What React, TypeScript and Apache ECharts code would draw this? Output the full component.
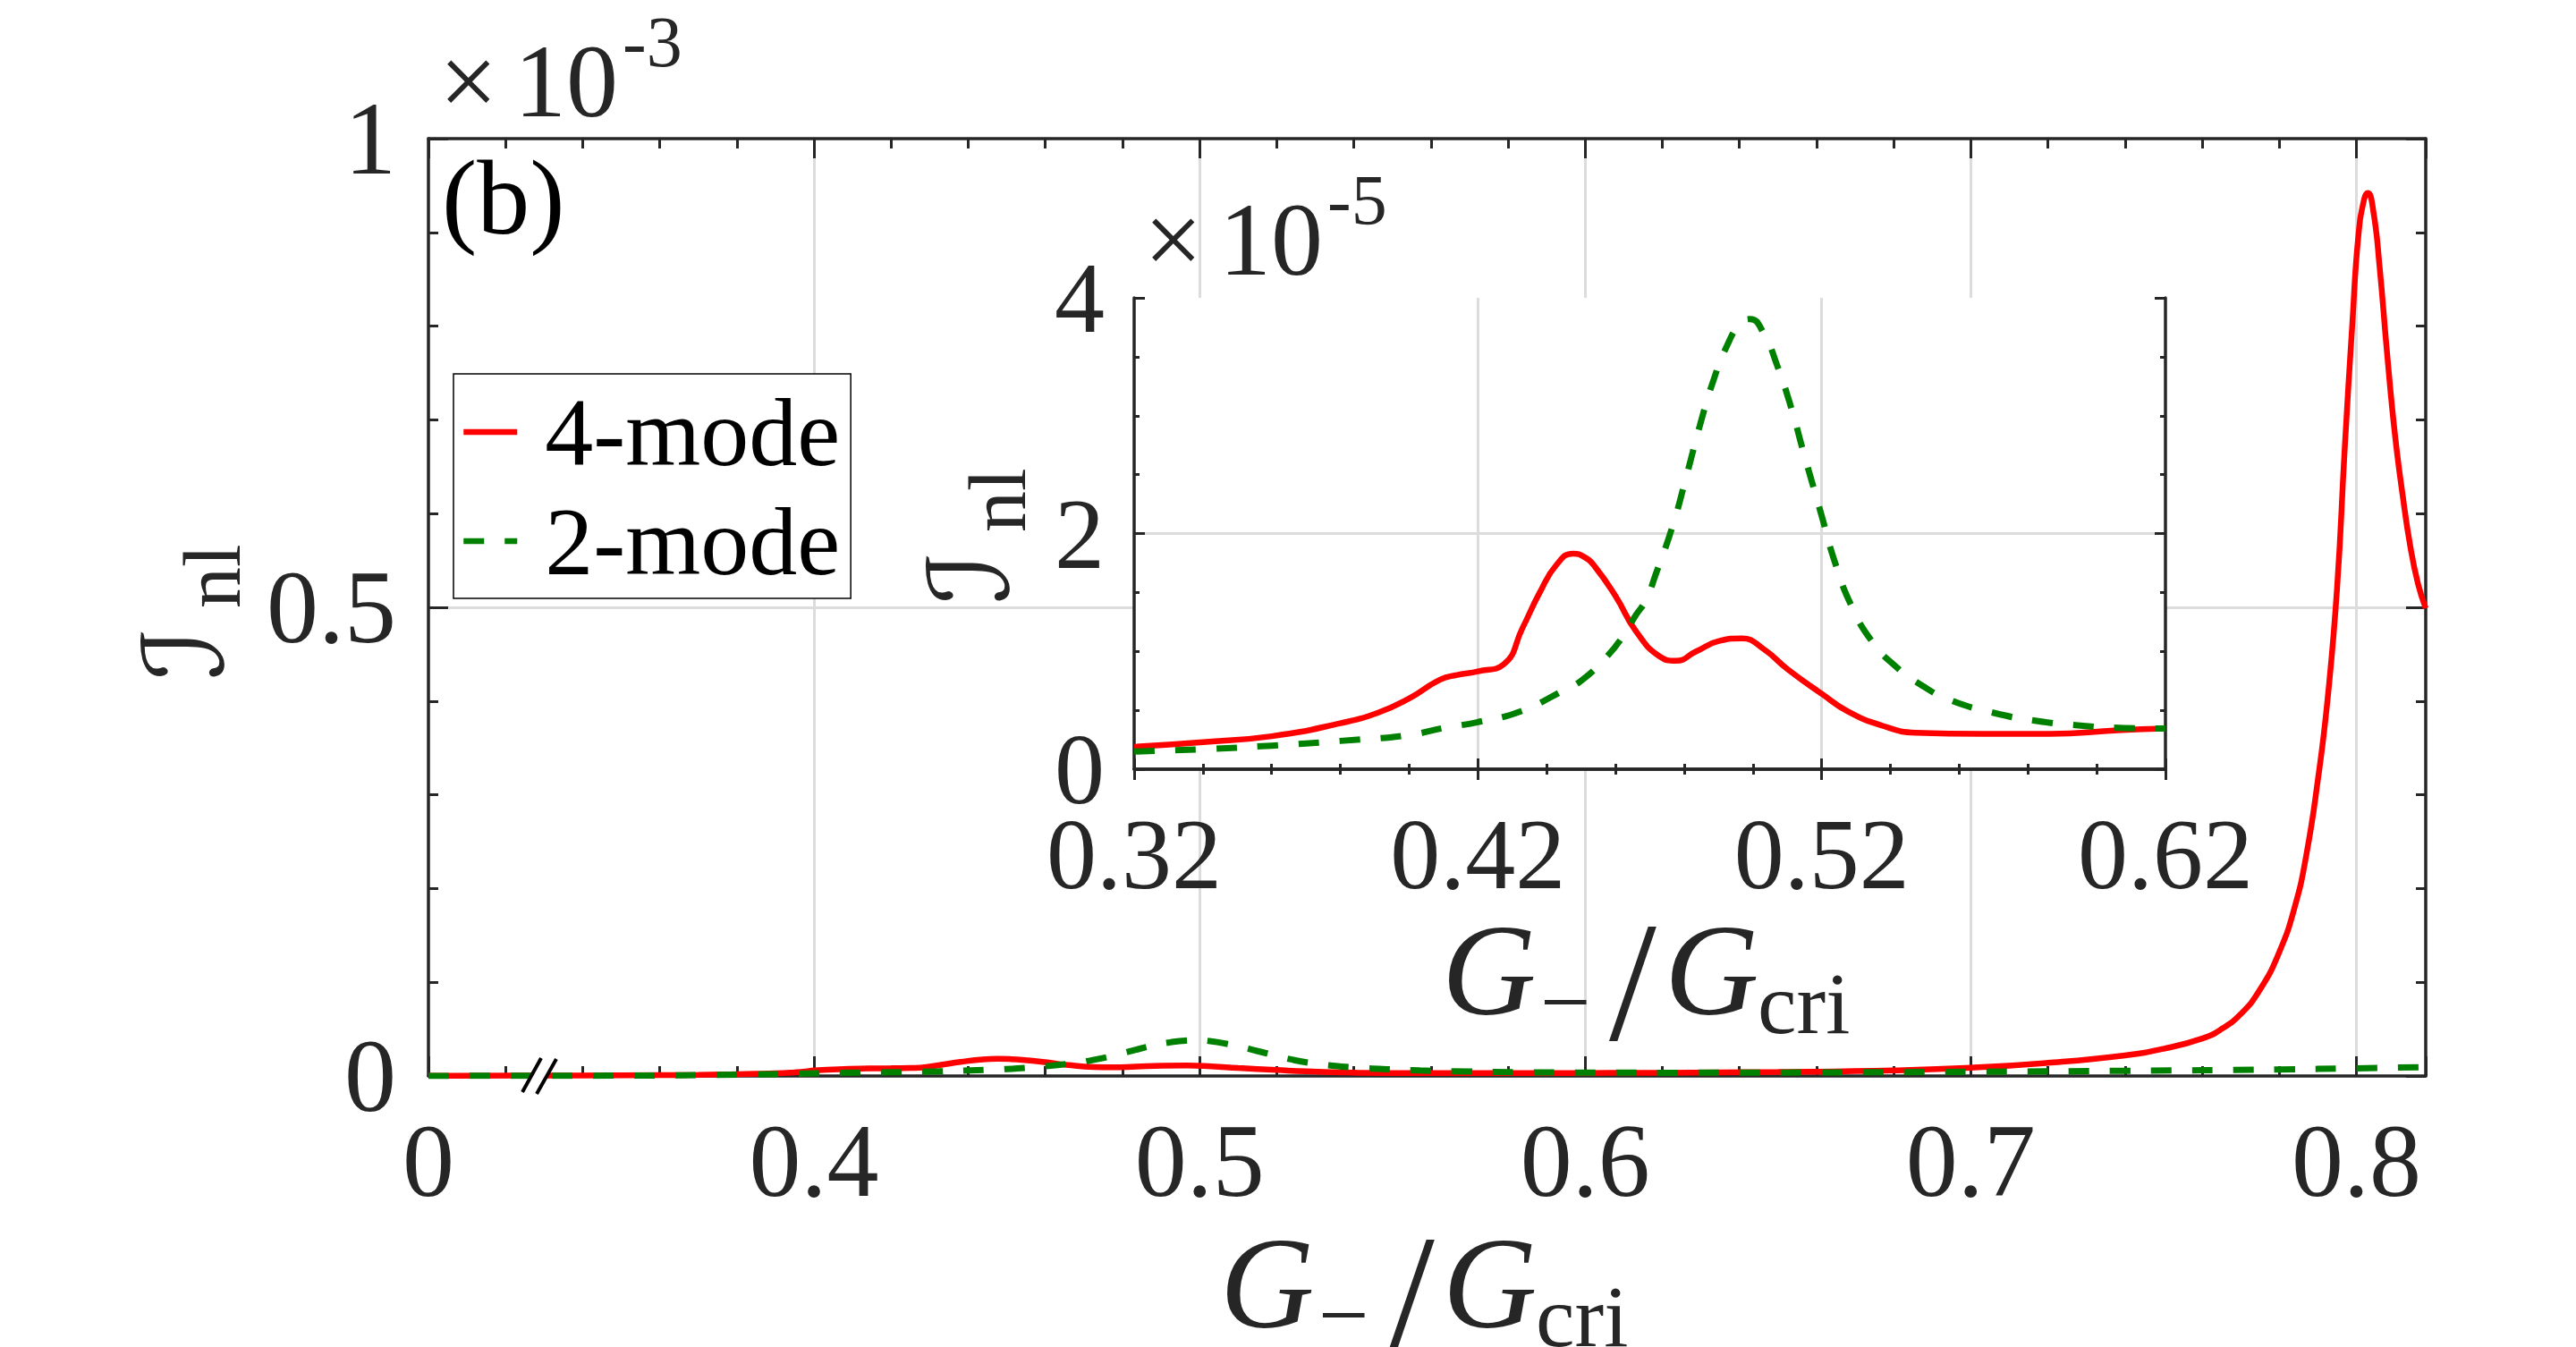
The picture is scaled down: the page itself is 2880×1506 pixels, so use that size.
import React, { useEffect, useRef } from 'react';
import * as echarts from 'echarts';

// ---- data (values of I_nl in units of 1e-5) ----
const gRatio4 = [0, 0.1, 0.2, 0.28, 0.32, 0.34, 0.36, 0.38, 0.391, 0.40, 0.409, 0.414, 0.42, 0.4275, 0.433, 0.438, 0.443, 0.4477, 0.451, 0.454, 0.46, 0.466, 0.4727, 0.4776, 0.4835, 0.4904, 0.4968, 0.5031, 0.51, 0.52, 0.5276, 0.5375, 0.5473, 0.5669, 0.5865, 0.606, 0.62, 0.65, 0.68, 0.70, 0.72, 0.74, 0.75, 0.76, 0.765, 0.77, 0.775, 0.78, 0.784, 0.787, 0.79, 0.7925, 0.795, 0.797, 0.799, 0.8005, 0.802, 0.803, 0.8045, 0.806, 0.808, 0.81, 0.812, 0.814, 0.816, 0.818];
const inl4 = [0.02, 0.04, 0.07, 0.12, 0.19, 0.23, 0.28, 0.39, 0.48, 0.60, 0.76, 0.80, 0.83, 0.89, 1.20, 1.50, 1.74, 1.83, 1.80, 1.72, 1.47, 1.17, 0.96, 0.92, 1.00, 1.09, 1.11, 1.02, 0.85, 0.64, 0.49, 0.37, 0.31, 0.30, 0.30, 0.33, 0.345, 0.42, 0.6, 0.88, 1.4, 2.2, 2.9, 4.0, 5.0, 6.6, 9.2, 13.2, 18.0, 23.5, 31.5, 40, 52, 67, 80.5, 89.5, 93.5, 94.2, 92, 86.5, 77, 68.5, 62, 56.5, 52.5, 49.9];
const gRatio2 = [0, 0.1, 0.2, 0.28, 0.32, 0.34, 0.36, 0.38, 0.40, 0.41, 0.42, 0.4323, 0.445, 0.45, 0.457, 0.462, 0.466, 0.4688, 0.4718, 0.4767, 0.4806, 0.4845, 0.4884, 0.4924, 0.4963, 0.4992, 0.5031, 0.507, 0.511, 0.5149, 0.52, 0.5237, 0.5286, 0.5345, 0.5414, 0.5492, 0.5571, 0.5698, 0.5825, 0.5953, 0.608, 0.62, 0.66, 0.70, 0.74, 0.78, 0.80, 0.818];
const inl2 = [0.01, 0.02, 0.04, 0.09, 0.15, 0.17, 0.20, 0.24, 0.29, 0.35, 0.40, 0.49, 0.67, 0.75, 0.94, 1.12, 1.31, 1.43, 1.66, 2.07, 2.48, 2.91, 3.29, 3.59, 3.78, 3.82, 3.70, 3.43, 3.08, 2.67, 2.15, 1.77, 1.39, 1.09, 0.875, 0.71, 0.59, 0.48, 0.41, 0.37, 0.35, 0.345, 0.38, 0.45, 0.55, 0.70, 0.82, 0.95];

const seriesNames = ['4-mode', '2-mode'];
const mainXTickValues = [0.3, 0.4, 0.5, 0.6, 0.7, 0.8];
const mainXTickLabels = ['0', '0.4', '0.5', '0.6', '0.7', '0.8'];
const insetXTickLabels = ['0.32', '0.42', '0.52', '0.62'];
const mainYTickLabels = ['0', '0.5', '1'];
const insetYTickLabels = ['0', '2', '4'];

const FONT = "'Liberation Serif', 'Times New Roman', serif";
const AX = '#262626';
const GRIDC = '#dcdcdc';
const RED = '#ff0000';
const GREEN = '#008000';

// broken axis: 0..0.4 drawn in the width of 0.1
const toMainX = (x: number) => (x < 0.4 ? 0.3 + x * 0.25 : x);

const mainData = (xs: number[], ys: number[]) => xs.map((x, i) => [toMainX(x), ys[i] / 100]);
const insetData = (xs: number[], ys: number[]) =>
  xs.map((x, i) => [x, ys[i]]).filter((p) => p[0] >= 0.32 - 1e-9 && p[0] <= 0.62 + 1e-9);

const txt = (text: string, x: number, baseline: number, fs: number, extra: any = {}) => ({
  type: 'text',
  x,
  y: baseline - 0.3375 * fs,
  z: 100,
  style: {
    text,
    fontSize: fs,
    fontFamily: FONT,
    fill: AX,
    align: 'left',
    verticalAlign: 'middle',
    textAlign: 'left',
    textVerticalAlign: 'middle',
    ...extra,
  },
});

const xLabel = (dx: number, dy: number) => [
  txt('G', 1364 + dx, 1484 + dy, 146, { fontStyle: 'italic' }),
  txt('\u2212', 1474 + dx, 1504 + dy, 100),
  txt('/', 1551 + dx, 1512 + dy, 190),
  txt('G', 1613 + dx, 1484 + dy, 146, { fontStyle: 'italic' }),
  txt('cri', 1717 + dx, 1505 + dy, 98),
];

const yLabel = (ox: number, oy: number) => ({
  type: 'group',
  x: ox,
  y: oy,
  rotation: Math.PI / 2,
  z: 100,
  children: [
    txt('\u2110', 0, 0, 124, { fontFamily: "'DejaVu Serif', 'DejaVu Sans', serif" }),
    txt('nl', 80, 20, 92),
  ],
});

const exponent = (dx: number, dy: number, p: string) => [
  txt('\u00d7', 491 + dx, 130 + dy, 116),
  txt('10', 575 + dx, 130 + dy, 116),
  txt(p, 696 + dx, 74 + dy, 80),
];

const tickStyle = { color: AX, width: 3 };

function buildOption() {
  const mainXFmt = (v: number) => {
    const i = mainXTickValues.findIndex((t) => Math.abs(t - v) < 1e-6);
    return i >= 0 ? mainXTickLabels[i] : '';
  };
  const insetXFmt = (v: number) => {
    const i = Math.round((v - 0.32) / 0.1);
    return Math.abs(0.32 + i * 0.1 - v) < 1e-6 && i >= 0 && i < insetXTickLabels.length ? insetXTickLabels[i] : '';
  };
  const mainYFmt = (v: number) => {
    const i = Math.round(v / 0.5);
    return Math.abs(i * 0.5 - v) < 1e-6 ? mainYTickLabels[i] ?? '' : '';
  };
  const insetYFmt = (v: number) => {
    const i = Math.round(v / 2);
    return Math.abs(i * 2 - v) < 1e-6 ? insetYTickLabels[i] ?? '' : '';
  };

  const baseMainX = { type: 'value', gridIndex: 0, min: 0.3, max: 0.818 };
  const baseInsetX = { type: 'value', gridIndex: 1, min: 0.32, max: 0.62, interval: 0.1, z: 11 };
  const lineCommon = { type: 'line', symbol: 'none', smooth: 0.5 };

  return {
    animation: false,
    backgroundColor: '#ffffff',
    grid: [
      { left: 479, top: 155, width: 2233, height: 1048, containLabel: false },
      { left: 1268, top: 333, width: 1153, height: 527, show: true, backgroundColor: '#ffffff', borderWidth: 0, z: 10 },
    ],
    xAxis: [
      {
        ...baseMainX,
        interval: 0.1,
        position: 'bottom',
        axisLine: { show: true, lineStyle: { color: AX, width: 3.5 } },
        axisTick: { show: true, inside: true, length: 22, lineStyle: tickStyle },
        axisLabel: { show: true, formatter: mainXFmt, fontSize: 116, fontFamily: FONT, color: AX, margin: 47, lineHeight: 96 },
        splitLine: { show: true, showMinLine: false, showMaxLine: false, lineStyle: { color: GRIDC, width: 3 } },
      },
      {
        ...baseMainX,
        interval: 0.02,
        position: 'bottom',
        axisLine: { show: false },
        axisTick: { show: true, inside: true, length: 11, lineStyle: tickStyle },
        axisLabel: { show: false },
        splitLine: { show: false },
      },
      {
        ...baseMainX,
        interval: 0.1,
        position: 'top',
        axisLine: { show: true, lineStyle: { color: AX, width: 3.5 } },
        axisTick: { show: true, inside: true, length: 22, lineStyle: tickStyle },
        axisLabel: { show: false },
        splitLine: { show: false },
      },
      {
        ...baseMainX,
        interval: 0.02,
        position: 'top',
        axisLine: { show: false },
        axisTick: { show: true, inside: true, length: 11, lineStyle: tickStyle },
        axisLabel: { show: false },
        splitLine: { show: false },
      },
      {
        ...baseInsetX,
        position: 'bottom',
        axisLine: { show: true, lineStyle: { color: AX, width: 3.5 } },
        axisTick: { show: true, inside: true, length: 12, lineStyle: tickStyle },
        minorTick: { show: true, splitNumber: 5, length: 6, lineStyle: tickStyle },
        axisLabel: { show: true, formatter: insetXFmt, fontSize: 112, fontFamily: FONT, color: AX, margin: 50, lineHeight: 90 },
        splitLine: { show: true, showMinLine: false, showMaxLine: false, lineStyle: { color: GRIDC, width: 3 } },
      },
      {
        ...baseInsetX,
        position: 'top',
        axisLine: { show: true, lineStyle: { color: AX, width: 3.5 } },
        axisTick: { show: true, inside: true, length: 12, lineStyle: tickStyle },
        minorTick: { show: true, splitNumber: 5, length: 6, lineStyle: tickStyle },
        axisLabel: { show: false },
        splitLine: { show: false },
      },
    ],
    yAxis: [
      {
        type: 'value', gridIndex: 0, min: 0, max: 1, interval: 0.5, position: 'left',
        axisLine: { show: true, lineStyle: { color: AX, width: 3.5 } },
        axisTick: { show: true, inside: true, length: 22, lineStyle: tickStyle },
        minorTick: { show: true, splitNumber: 5, length: 11, lineStyle: tickStyle },
        axisLabel: { show: true, formatter: mainYFmt, fontSize: 116, fontFamily: FONT, color: AX, margin: 36, lineHeight: 96 },
        splitLine: { show: true, showMinLine: false, showMaxLine: false, lineStyle: { color: GRIDC, width: 3 } },
      },
      {
        type: 'value', gridIndex: 0, min: 0, max: 1, interval: 0.5, position: 'right',
        axisLine: { show: true, lineStyle: { color: AX, width: 3.5 } },
        axisTick: { show: true, inside: true, length: 22, lineStyle: tickStyle },
        minorTick: { show: true, splitNumber: 5, length: 11, lineStyle: tickStyle },
        axisLabel: { show: false },
        splitLine: { show: false },
      },
      {
        type: 'value', gridIndex: 1, min: 0, max: 4, interval: 2, position: 'left', z: 11,
        axisLine: { show: true, lineStyle: { color: AX, width: 3.5 } },
        axisTick: { show: true, inside: true, length: 12, lineStyle: tickStyle },
        minorTick: { show: true, splitNumber: 4, length: 6, lineStyle: tickStyle },
        axisLabel: { show: true, formatter: insetYFmt, fontSize: 112, fontFamily: FONT, color: AX, margin: 33, lineHeight: 90 },
        splitLine: { show: true, showMinLine: false, showMaxLine: false, lineStyle: { color: GRIDC, width: 3 } },
      },
      {
        type: 'value', gridIndex: 1, min: 0, max: 4, interval: 2, position: 'right', z: 11,
        axisLine: { show: true, lineStyle: { color: AX, width: 3.5 } },
        axisTick: { show: true, inside: true, length: 12, lineStyle: tickStyle },
        minorTick: { show: true, splitNumber: 4, length: 6, lineStyle: tickStyle },
        axisLabel: { show: false },
        splitLine: { show: false },
      },
    ],
    legend: {
      data: seriesNames,
      orient: 'vertical',
      left: 507,
      top: 418,
      padding: [10, 12, 9, 8],
      itemGap: 12,
      itemWidth: 60,
      itemHeight: 14,
      borderColor: '#000000',
      borderWidth: 1.5,
      backgroundColor: '#ffffff',
      selectedMode: false,
      itemStyle: { opacity: 0, borderWidth: 0 },
      lineStyle: { width: 6.5 },
      textStyle: { fontSize: 108, fontFamily: FONT, color: '#000000', lineHeight: 110, padding: [0, 0, 0, 26] },
    },
    series: [
      {
        ...lineCommon, name: seriesNames[0], xAxisIndex: 0, yAxisIndex: 0, data: mainData(gRatio4, inl4), z: 2,
        lineStyle: { color: RED, width: 6.5 }, itemStyle: { color: RED },
      },
      {
        ...lineCommon, name: seriesNames[1], xAxisIndex: 0, yAxisIndex: 0, data: mainData(gRatio2, inl2), z: 3,
        lineStyle: { color: GREEN, width: 7, type: [23, 23] }, itemStyle: { color: GREEN },
      },
      {
        ...lineCommon, name: seriesNames[0], xAxisIndex: 4, yAxisIndex: 2, data: insetData(gRatio4, inl4), z: 12,
        lineStyle: { color: RED, width: 6.5 }, itemStyle: { color: RED },
      },
      {
        ...lineCommon, name: seriesNames[1], xAxisIndex: 4, yAxisIndex: 2, data: insetData(gRatio2, inl2), z: 13,
        lineStyle: { color: GREEN, width: 7, type: [23, 23] }, itemStyle: { color: GREEN },
      },
    ],
    graphic: [
      // axis break mark
      { type: 'polygon', z: 100, shape: { points: [[584, 1221], [605, 1183], [622, 1184], [600, 1223]] }, style: { fill: '#ffffff' } },
      { type: 'line', z: 101, shape: { x1: 584, y1: 1221, x2: 605, y2: 1183 }, style: { stroke: '#000000', lineWidth: 4 } },
      { type: 'line', z: 101, shape: { x1: 600, y1: 1223, x2: 622, y2: 1184 }, style: { stroke: '#000000', lineWidth: 4 } },
      ...exponent(0, 0, '-3'),
      ...exponent(788, 177, '-5'),
      txt('(b)', 494, 261, 118, { fill: '#000000' }),
      ...xLabel(0, 0),
      ...xLabel(248, -350),
      yLabel(248, 760),
      yLabel(1126, 675),
    ],
  };
}

export default function App() {
  const ref = useRef<HTMLDivElement>(null);
  useEffect(() => {
    if (!ref.current) return;
    const chart = echarts.init(ref.current, undefined, { renderer: 'svg' });
    chart.setOption(buildOption() as any);
    return () => chart.dispose();
  }, []);
  return (
    <div
      ref={ref}
      style={{ position: 'absolute', left: 0, top: 0, width: 2880, height: 1506, background: '#fff' }}
    />
  );
}
